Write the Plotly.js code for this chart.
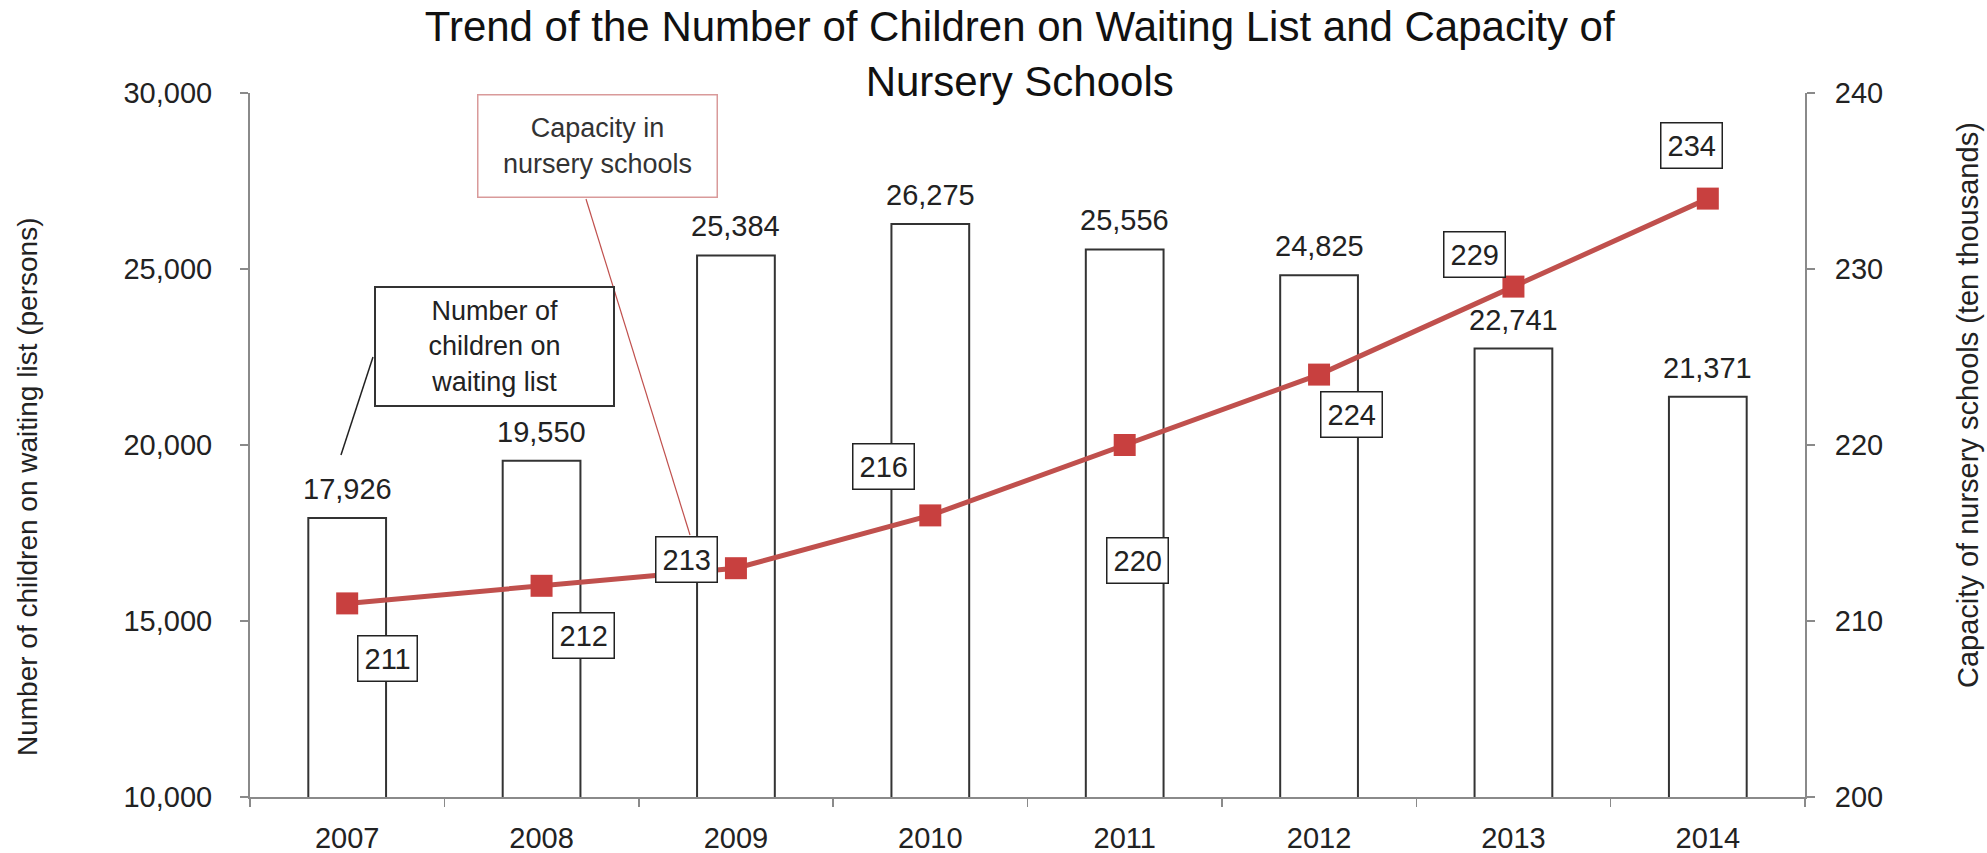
<!DOCTYPE html>
<html>
<head>
<meta charset="utf-8">
<script src="https://cdn.plot.ly/plotly-3.0.1.min.js"></script>
<style>
  html, body { margin: 0; padding: 0; background: #fff; }
  #chart { width: 1987px; height: 853px; }
</style>
</head>
<body>
<div id="chart"></div>
<script>
// ---- data ----
const years = ['2007', '2008', '2009', '2010', '2011', '2012', '2013', '2014'];
const waitingList = [17926, 19550, 25384, 26275, 25556, 24825, 22741, 21371];
const capacity = [211, 212, 213, 216, 220, 224, 229, 234];
const leftTicks = [10000, 15000, 20000, 25000, 30000];
const rightTicks = [200, 210, 220, 230, 240];

// label offsets for capacity boxes (pixels: right, up)
const capLabelOffsets = [[40, -55], [42, -50], [-49, 9], [-47, 49], [13, -115], [32, -40], [-39, 32], [-16, 53]];

const FONT = 'Liberation Sans, Arial, Helvetica, sans-serif';
const TXT = '#222';

const traces = [
  {
    type: 'bar', x: years, y: waitingList, yaxis: 'y', name: 'Number of children on waiting list',
    width: 0.4,
    marker: { color: '#ffffff', line: { color: '#333333', width: 2 } }
  },
  {
    type: 'scatter', mode: 'lines+markers', x: years, y: capacity, yaxis: 'y2', name: 'Capacity in nursery schools',
    line: { color: '#c0504d', width: 5 },
    marker: { symbol: 'square', size: 22, color: '#c8403f' }
  }
];

const annotations = [];
// bar value labels (x given as category index)
waitingList.forEach((v, i) => {
  annotations.push({
    x: i, y: v, xref: 'x', yref: 'y', showarrow: false,
    text: v.toLocaleString('en-US'), xanchor: 'center', yanchor: 'middle', yshift: 29,
    font: { family: FONT, size: 29, color: TXT }
  });
});
// capacity boxed labels
capacity.forEach((v, i) => {
  annotations.push({
    x: i, y: v, xref: 'x', yref: 'y2', showarrow: false,
    text: String(v), xanchor: 'center', yanchor: 'middle',
    xshift: capLabelOffsets[i][0], yshift: capLabelOffsets[i][1],
    bgcolor: '#ffffff', bordercolor: '#222', borderwidth: 1.5, borderpad: 6,
    font: { family: FONT, size: 29, color: TXT }
  });
});
// callout boxes
annotations.push({
  xref: 'paper', yref: 'paper', x: 0.1572, y: 0.6399, xanchor: 'center', yanchor: 'middle', showarrow: false,
  text: 'Number of<br>children on<br>waiting list', width: 237, height: 117,
  bordercolor: '#333', borderwidth: 2, borderpad: 0, bgcolor: '#fff',
  font: { family: FONT, size: 27, color: TXT }
});
annotations.push({
  xref: 'paper', yref: 'paper', x: 0.2232, y: 0.9254, xanchor: 'center', yanchor: 'middle', showarrow: false,
  text: 'Capacity in<br>nursery schools', width: 238, height: 101,
  bordercolor: '#d99a9a', borderwidth: 1.5, borderpad: 0, bgcolor: '#fff',
  font: { family: FONT, size: 27, color: '#333' }
});
// axis titles
annotations.push({
  xref: 'paper', yref: 'paper', x: (28 - 250) / 1555, y: (797 - 487) / 704, xanchor: 'center', yanchor: 'middle', showarrow: false,
  text: 'Number of children on waiting list (persons)', textangle: -90,
  font: { family: FONT, size: 28, color: TXT }
});
annotations.push({
  xref: 'paper', yref: 'paper', x: (1968 - 250) / 1555, y: (797 - 405) / 704, xanchor: 'center', yanchor: 'middle', showarrow: false,
  text: 'Capacity of nursery schools (ten thousands)', textangle: -90,
  font: { family: FONT, size: 29, color: TXT }
});

const shapes = [
  { type: 'line', xref: 'paper', yref: 'paper', x0: 0.0791, y0: 0.625, x1: 0.0585, y1: 0.4858,
    line: { color: '#222', width: 1.5 } },
  { type: 'line', xref: 'paper', yref: 'paper', x0: (586 - 250) / 1555, y0: (797 - 199) / 704, x1: (690 - 250) / 1555, y1: (797 - 535) / 704,
    line: { color: '#c0504d', width: 1.2 } }
];

const layout = {
  width: 1987, height: 853,
  margin: { l: 250, r: 182, t: 93, b: 56 },
  paper_bgcolor: '#fff', plot_bgcolor: '#fff',
  showlegend: false,
  font: { family: FONT, size: 29, color: TXT },
  title: {
    text: 'Trend of the Number of Children on Waiting List and Capacity of<br>Nursery Schools',
    font: { family: FONT, size: 42, color: '#111' },
    xref: 'paper', x: 0.495, xanchor: 'center',
    yref: 'container', y: 0.952, yanchor: 'top'
  },
  xaxis: {
    type: 'category', range: [-0.5, 7.5], showgrid: false, zeroline: false,
    showline: true, linecolor: '#8a8a8a', linewidth: 2,
    ticks: 'outside', tickson: 'boundaries', ticklen: 8, tickcolor: '#8a8a8a', tickwidth: 1.5,
    tickangle: 0, ticklabelstandoff: 14,
    tickfont: { family: FONT, size: 29, color: TXT }
  },
  yaxis: {
    range: [10000, 30000], tickvals: leftTicks, tickformat: ',d',
    showgrid: false, zeroline: false,
    showline: true, linecolor: '#8a8a8a', linewidth: 2,
    ticks: 'outside', ticklen: 8, tickcolor: '#8a8a8a', tickwidth: 1.5,
    ticklabelstandoff: 22,
    tickfont: { family: FONT, size: 29, color: TXT }
  },
  yaxis2: {
    range: [200, 240], tickvals: rightTicks, overlaying: 'y', side: 'right',
    showgrid: false, zeroline: false,
    showline: true, linecolor: '#8a8a8a', linewidth: 2,
    ticks: 'outside', ticklen: 8, tickcolor: '#8a8a8a', tickwidth: 1.5,
    ticklabelstandoff: 14,
    tickfont: { family: FONT, size: 29, color: TXT }
  },
  annotations: annotations,
  shapes: shapes
};

Plotly.newPlot('chart', traces, layout, { staticPlot: true, displayModeBar: false });
</script>
</body>
</html>
